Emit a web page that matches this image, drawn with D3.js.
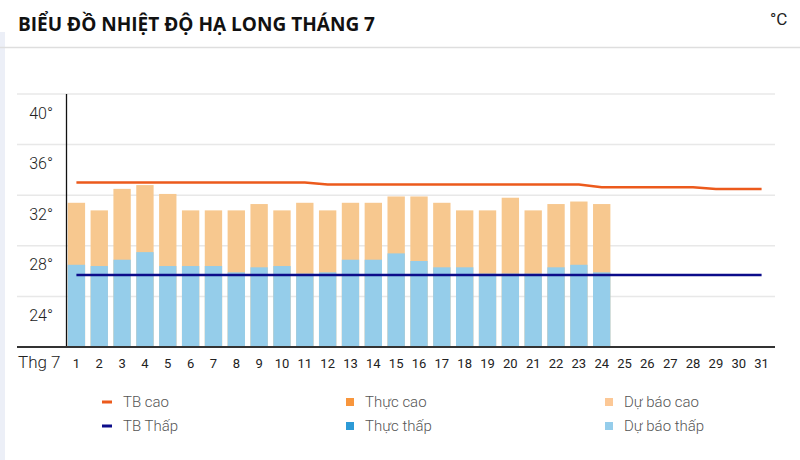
<!DOCTYPE html>
<html>
<head>
<meta charset="utf-8">
<title>Biểu đồ nhiệt độ Hạ Long tháng 7</title>
<script src="https://d3js.org/d3.v7.min.js"></script>
<style>
  body { margin: 0; background: #fff; }
  svg { display: block; }
  .title { font-family: "Open Sans", "Noto Sans", sans-serif; font-weight: 700; font-size: 20px; fill: #111; }
  .unit { font-family: Roboto, sans-serif; font-size: 17px; fill: #222; }
  .ylab { font-family: "Liberation Sans Narrow", Roboto, sans-serif; font-size: 16px; font-weight: 300; fill: #222; }
  .xlab { font-family: "Liberation Sans Narrow", Roboto, sans-serif; font-size: 13px; fill: #222; }
  .leg { font-family: "Liberation Sans Narrow", Roboto, sans-serif; font-size: 15px; font-weight: 300; fill: #555; }
</style>
</head>
<body>
<div id="chart"></div>
<script>
// ngày trong tháng
var days = ["1","2","3","4","5","6","7","8","9","10","11","12","13","14","15","16",
            "17","18","19","20","21","22","23","24","25","26","27","28","29","30","31"];
// dự báo cao / thấp (ngày 1 - 24)
var forecastHigh = [31.4, 30.8, 32.5, 32.8, 32.1, 30.8, 30.8, 30.8, 31.3, 30.8, 31.4, 30.8,
                    31.4, 31.4, 31.9, 31.9, 31.4, 30.8, 30.8, 31.8, 30.8, 31.3, 31.5, 31.3];
var forecastLow  = [26.5, 26.4, 26.9, 27.5, 26.4, 26.4, 26.4, 25.9, 26.3, 26.4, 25.8, 25.9,
                    26.9, 26.9, 27.4, 26.8, 26.3, 26.3, 25.8, 25.8, 25.8, 26.3, 26.5, 25.9];
// trung bình cao / thấp (cả tháng)
var avgHigh = [33.0, 33.0, 33.0, 33.0, 33.0, 33.0, 33.0, 33.0, 33.0, 33.0, 33.0,
               32.84, 32.84, 32.84, 32.84, 32.84, 32.84, 32.84, 32.84, 32.84, 32.84, 32.84, 32.84,
               32.63, 32.63, 32.63, 32.63, 32.63, 32.5, 32.5, 32.5];
var avgLow = [25.7, 25.7, 25.7, 25.7, 25.7, 25.7, 25.7, 25.7, 25.7, 25.7, 25.7, 25.7, 25.7, 25.7, 25.7, 25.7,
              25.7, 25.7, 25.7, 25.7, 25.7, 25.7, 25.7, 25.7, 25.7, 25.7, 25.7, 25.7, 25.7, 25.7, 25.7];
var yTicks = [24, 28, 32, 36, 40];
var legendItems = [
  {name: "TB cao", color: "#ec5a1c", type: "line"},
  {name: "TB Thấp", color: "#0c0c8a", type: "line"},
  {name: "Thực cao", color: "#f8963c", type: "box"},
  {name: "Thực thấp", color: "#2d9ad6", type: "box"},
  {name: "Dự báo cao", color: "#fcc896", type: "box"},
  {name: "Dự báo thấp", color: "#95cdeb", type: "box"}
];

var W = 800, H = 460;
var svg = d3.select("#chart").append("svg").attr("width", W).attr("height", H);

// dải nhạt bên trái
svg.append("rect").attr("x", 0).attr("y", 32).attr("width", 5).attr("height", H - 32).attr("fill", "#eceff7");

svg.append("text").attr("class", "title").attr("x", 18).attr("y", 31)
  .attr("textLength", 357).attr("lengthAdjust", "spacingAndGlyphs")
  .text("BIỂU ĐỒ NHIỆT ĐỘ HẠ LONG THÁNG 7");
svg.append("text").attr("class", "unit").attr("x", 770).attr("y", 25).text("°C");
svg.append("line").attr("x1", 0).attr("x2", W).attr("y1", 47.5).attr("y2", 47.5)
  .attr("stroke", "#dedede").attr("stroke-width", 1.5);

var x = d3.scaleBand().domain(days).range([65, 773]).paddingInner(0.24).paddingOuter(0.12);
var y = d3.scaleLinear().domain([20, 40]).range([347, 94]);

// lưới
svg.append("g").selectAll("line").data(yTicks).join("line")
  .attr("x1", 17).attr("x2", 775)
  .attr("y1", function(d) { return y(d); }).attr("y2", function(d) { return y(d); })
  .attr("stroke", "#e8e8e8").attr("stroke-width", 1.5);

svg.append("g").selectAll("text").data(yTicks).join("text")
  .attr("class", "ylab")
  .attr("x", 53).attr("y", function(d) { return y(d) + 19; })
  .attr("text-anchor", "end").attr("dominant-baseline", "central")
  .text(function(d) { return d + "°"; });

// cột dự báo
var bars = svg.append("g");
bars.selectAll("rect.hi").data(forecastHigh).join("rect").attr("class", "hi")
  .attr("x", function(d, i) { return x(days[i]); })
  .attr("width", x.bandwidth())
  .attr("y", function(d) { return y(d); })
  .attr("height", function(d) { return y(20) - y(d); })
  .attr("fill", "#f7c88f");
bars.selectAll("rect.lo").data(forecastLow).join("rect").attr("class", "lo")
  .attr("x", function(d, i) { return x(days[i]); })
  .attr("width", x.bandwidth())
  .attr("y", function(d) { return y(d); })
  .attr("height", function(d) { return y(20) - y(d); })
  .attr("fill", "#95cdea");

// đường trung bình
var line = d3.line()
  .x(function(d, i) { return x(days[i]) + x.bandwidth() / 2; })
  .y(function(d) { return y(d); });
svg.append("path").datum(avgHigh).attr("d", line)
  .attr("fill", "none").attr("stroke", "#ec5a1c").attr("stroke-width", 2.5);
svg.append("path").datum(avgLow).attr("d", line)
  .attr("fill", "none").attr("stroke", "#0c0c8a").attr("stroke-width", 2.5);

// trục
svg.append("line").attr("x1", 66.5).attr("x2", 66.5).attr("y1", 94).attr("y2", 347)
  .attr("stroke", "#111").attr("stroke-width", 1.3);
svg.append("line").attr("x1", 17).attr("x2", 775).attr("y1", 347).attr("y2", 347)
  .attr("stroke", "#333").attr("stroke-width", 2);

svg.append("g").selectAll("text").data(days).join("text")
  .attr("class", "xlab")
  .attr("x", function(d) { return x(d) + x.bandwidth() / 2; })
  .attr("y", 363).attr("text-anchor", "middle").attr("dominant-baseline", "central")
  .text(function(d) { return d; });
svg.append("text").attr("class", "ylab").attr("x", 18).attr("y", 362)
  .style("font-size", "17px")
  .attr("dominant-baseline", "central").text("Thg 7");

// chú thích
var colX = [102, 346, 605], rowY = [402, 426];
var leg = svg.append("g").selectAll("g").data(legendItems).join("g")
  .attr("transform", function(d, i) {
    return "translate(" + colX[Math.floor(i / 2)] + "," + rowY[i % 2] + ")";
  });
leg.filter(function(d) { return d.type == "line"; }).append("rect")
  .attr("x", 0).attr("y", -1.5).attr("width", 10).attr("height", 3).attr("fill", function(d) { return d.color; });
leg.filter(function(d) { return d.type == "box"; }).append("rect")
  .attr("x", 0).attr("y", -4).attr("width", 8).attr("height", 8).attr("fill", function(d) { return d.color; });
leg.append("text").attr("class", "leg")
  .attr("x", function(d) { return d.type == "line" ? 21 : 19; })
  .attr("y", 0).attr("dominant-baseline", "central")
  .text(function(d) { return d.name; });
</script>
</body>
</html>
